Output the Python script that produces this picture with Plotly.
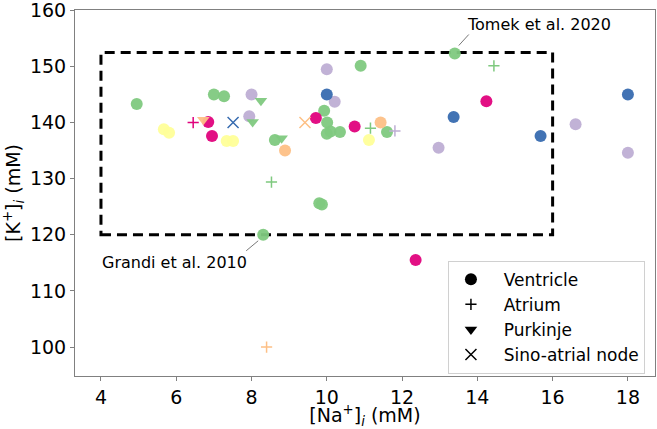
import plotly.graph_objects as go

# Accent palette (groups)
group_colors = {
    "green": "#7fc97f",
    "purple": "#beaed4",
    "orange": "#fdc086",
    "yellow": "#ffff99",
    "blue": "#386cb0",
    "magenta": "#e0037d",
}

# Ventricle
ventricle_na = [4.95, 7.00, 7.27, 8.62, 8.31, 9.80, 9.87, 9.93, 10.01, 10.00, 10.10, 10.35, 10.90, 11.60, 13.40,
                8.00, 7.94, 10.00, 10.21, 12.97, 16.61, 18.00,
                8.89, 11.43,
                5.67, 5.81, 7.34, 7.51, 11.12,
                10.00, 13.37, 15.68, 18.00,
                6.85, 6.95, 9.71, 10.74, 14.24, 12.36]
ventricle_k = [143.3, 145.0, 144.7, 136.9, 120.0, 125.6, 125.4, 142.1, 140.0, 138.0, 138.4, 138.3, 150.1, 138.3, 152.3,
               145.0, 141.1, 149.5, 143.7, 135.5, 139.7, 134.6,
               135.0, 140.0,
               138.8, 138.2, 136.7, 136.7, 136.9,
               145.0, 141.0, 137.6, 145.0,
               140.1, 137.6, 140.8, 139.3, 143.8, 115.5]
ventricle_group = (["green"] * 15 + ["purple"] * 7 + ["orange"] * 2 + ["yellow"] * 5
                   + ["blue"] * 4 + ["magenta"] * 6)

# Atrium
atrium_na = [8.53, 11.16, 14.44, 8.40, 6.45, 11.81]
atrium_k = [129.4, 139.0, 150.1, 100.0, 140.0, 138.5]
atrium_group = ["green", "green", "green", "orange", "magenta", "purple"]

# Purkinje
purkinje_na = [8.25, 8.03, 8.80, 6.72]
purkinje_k = [143.9, 140.1, 137.2, 140.5]
purkinje_group = ["green", "green", "green", "orange"]

# Sino-atrial node
san_na = [7.51, 9.42]
san_k = [140.0, 140.0]
san_group = ["blue", "orange"]

# Physiological range box
box_na = [4, 16]
box_k = [120, 152.5]

# Labelled models
labels = [
    {"text": "Tomek et al. 2020", "na": 13.40, "k": 152.3},
    {"text": "Grandi et al. 2010", "na": 8.31, "k": 120.0},
]

FONT = "DejaVu Sans"
fig = go.Figure()

def cols(groups):
    return [group_colors[g] for g in groups]

fig.add_trace(go.Scatter(x=ventricle_na, y=ventricle_k, mode="markers", showlegend=False,
                         marker=dict(symbol="circle", size=12, color=cols(ventricle_group),
                                     opacity=0.95, line=dict(width=0))))
fig.add_trace(go.Scatter(x=atrium_na, y=atrium_k, mode="markers", showlegend=False,
                         marker=dict(symbol="cross-thin", size=8, color=cols(atrium_group),
                                     line=dict(width=1.5, color=cols(atrium_group)))))
fig.add_trace(go.Scatter(x=purkinje_na, y=purkinje_k, mode="markers", showlegend=False,
                         marker=dict(symbol="triangle-down", size=11, color=cols(purkinje_group),
                                     opacity=0.95, line=dict(width=0))))
fig.add_trace(go.Scatter(x=san_na, y=san_k, mode="markers", showlegend=False,
                         marker=dict(symbol="x-thin", size=11, color=cols(san_group),
                                     line=dict(width=1.5, color=cols(san_group)))))

# legend entries (black)
for name, sym, size, lw in [("Ventricle", "circle", 12, 0), ("Atrium", "cross-thin", 8, 1.5),
                            ("Purkinje", "triangle-down", 11, 0), ("Sino-atrial node", "x-thin", 11, 1.5)]:
    fig.add_trace(go.Scatter(x=[None], y=[None], mode="markers", name="&nbsp;&nbsp;" + name,
                             marker=dict(symbol=sym, size=size, color="black",
                                         line=dict(width=lw, color="black"))))

fig.add_shape(type="rect", x0=box_na[0], x1=box_na[1], y0=box_k[0], y1=box_k[1],
              xref="x", yref="y", line=dict(color="black", width=3, dash="10px,6px"), layer="below")

# annotations
tom, gra = labels
fig.add_annotation(x=tom["na"], y=tom["k"], text=tom["text"], showarrow=False,
                   xanchor="left", yanchor="middle", xshift=10, yshift=29,
                   font=dict(family=FONT, size=16, color="black"))
fig.add_shape(type="line", xref="x", yref="y", xsizemode="pixel", ysizemode="pixel",
              xanchor=tom["na"], yanchor=tom["k"], x0=4, x1=14, y0=8, y1=19,
              line=dict(color="#555555", width=0.8))
fig.add_annotation(x=gra["na"], y=gra["k"], text=gra["text"], showarrow=False,
                   xanchor="right", yanchor="middle", xshift=-14, yshift=-28,
                   font=dict(family=FONT, size=16, color="black"))
fig.add_shape(type="line", xref="x", yref="y", xsizemode="pixel", ysizemode="pixel",
              xanchor=gra["na"], yanchor=gra["k"], x0=-5, x1=-17, y0=-6, y1=-16,
              line=dict(color="#555555", width=0.8))

axis_common = dict(showline=True, mirror=True, linecolor="#808080", linewidth=1, automargin=False,
                   ticks="outside", ticklen=4, tickcolor="#808080", showgrid=False, zeroline=False,
                   ticklabeloverflow="allow",
                   tickfont=dict(family=FONT, size=19, color="black"))
fig.update_xaxes(range=[3.31, 18.72], tickvals=[4, 6, 8, 10, 12, 14, 16, 18],
                 title=dict(text="[Na<sup>+</sup>]<sub><i>i</i></sub> (mM)", standoff=2,
                            font=dict(family=FONT, size=19, color="black")), **axis_common)
fig.update_yaxes(range=[94.84, 160.05], tickvals=[100, 110, 120, 130, 140, 150, 160],
                 title=dict(text="[K<sup>+</sup>]<sub><i>i</i></sub> (mM)", standoff=6,
                            font=dict(family=FONT, size=19, color="black")), **axis_common)

fig.update_layout(
    width=657, height=429,
    margin=dict(l=75, r=2, t=10, b=53),
    plot_bgcolor="white", paper_bgcolor="white",
    font=dict(family=FONT, color="black"),
    legend=dict(x=0.643, y=0.315, xanchor="left", yanchor="top", itemwidth=34,
                bordercolor="#d0d0d0", borderwidth=1, bgcolor="rgba(255,255,255,0.85)",
                font=dict(family=FONT, size=17, color="black")),
)

fig.write_html("out.html", config={"displayModeBar": False},
               post_script="document.body.style.margin='0';document.body.style.padding='0';"
                           "document.documentElement.style.overflow='hidden';")
